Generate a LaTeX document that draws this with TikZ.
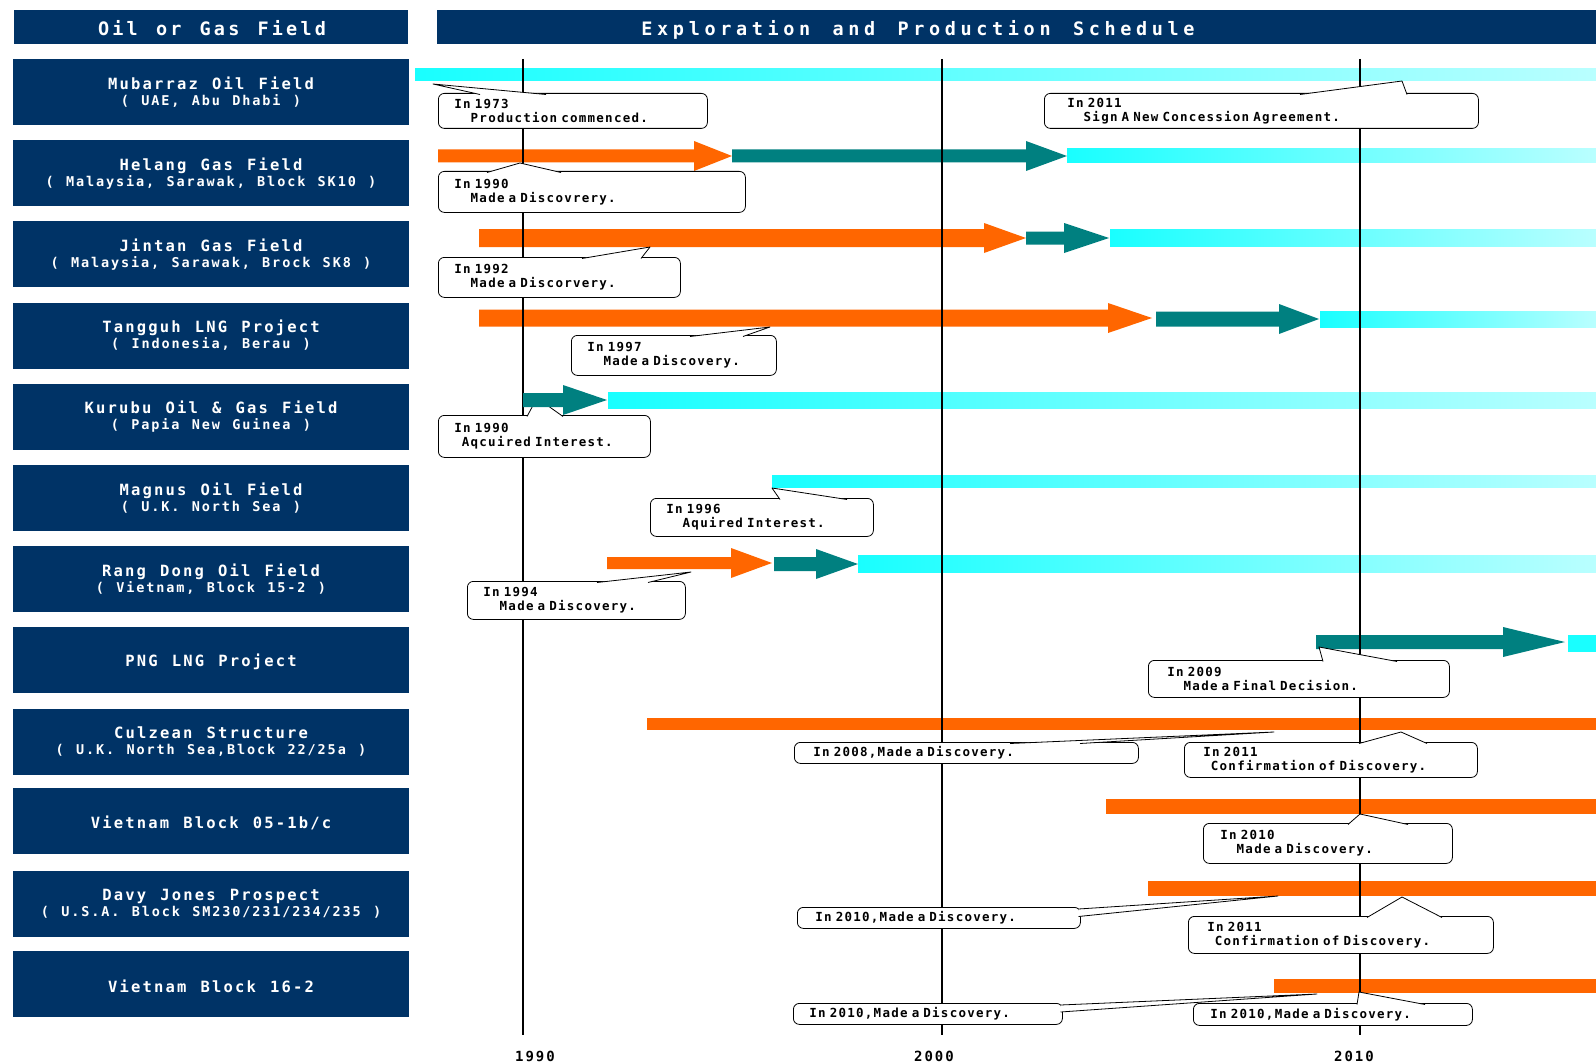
\documentclass[tikz,border=0pt]{standalone}
\usepackage{fontspec}
\newfontfamily\titlefont[LetterSpace=17,WordSpace=1.28]{DejaVu Sans Mono}
\newfontfamily\widetitlefont[LetterSpace=25,WordSpace=1.42]{DejaVu Sans Mono}
\newfontfamily\rowfont[LetterSpace=14,WordSpace=1.23]{DejaVu Sans Mono}
\newfontfamily\callfont[LetterSpace=10,WordSpace=1.35]{DejaVu Sans Mono}
\usepackage{tikz}

\definecolor{navy}{RGB}{0,51,102}
\definecolor{orangebar}{RGB}{255,102,0}
\definecolor{tealbar}{RGB}{0,128,128}
\definecolor{cyanbar}{RGB}{25,255,255}
\definecolor{cyanpale}{RGB}{185,255,255}

% second line of a field label
\newcommand{\fieldsub}[1]{{\fontsize{13.5}{16}\selectfont #1}}
% block arrow: colour, start x, tip x, centre y, half shaft, head length
\newcommand{\flowarrow}[6]{%
  \fill[#1] (#2,#4-#5) -- (#3-#6,#4-#5) -- (#3-#6,#4-15) -- (#3,#4)
    -- (#3-#6,#4+15) -- (#3-#6,#4+#5) -- (#2,#4+#5) -- cycle;}
% callout pointer: base point, tip, base point
\newcommand{\pointer}[3]{%
  \fill[white] (#1) -- (#2) -- (#3) -- cycle;
  \draw[line width=0.8pt, line join=round] (#1) -- (#2) -- (#3);}

\begin{document}
\begin{tikzpicture}[
  x=1pt, y=-1pt,
  hdbox/.style={
    rectangle, fill=navy, minimum height=34pt, inner sep=0pt
  },
  hdtext/.style={
    text=white, font=#1\bfseries\fontsize{18.5}{20}\selectfont
  },
  fieldbox/.style={
    rectangle, fill=navy, minimum width=396pt, minimum height=66pt,
    text=white, align=center, inner sep=0pt,
    font=\rowfont\bfseries\fontsize{15.5}{16}\selectfont,
    execute at begin node={\rule{0pt}{16pt}}
  },
  callout/.style={
    rectangle, draw=black, fill=white, line width=0.8pt, rounded corners=6pt,
    anchor=north west, align=left, inner xsep=16pt, inner ysep=0pt,
    font=\callfont\bfseries\fontsize{12.5}{14}\selectfont
  },
  gridline/.style={line width=1.6pt},
  yearlabel/.style={font=\rowfont\bfseries\fontsize{14}{16}\selectfont}
]
\useasboundingbox (0,0) rectangle (1596,1062);

% Headers
\node[hdbox, minimum width=394pt] (hdfield) at (211,27) {};
\node[hdtext=\titlefont] (hdfieldtxt) at (212,28.5) {Oil or Gas Field};
\node[hdbox, minimum width=1159pt] (hdsched) at (1016.5,27) {};
\node[hdtext=\widetitlefont] (hdschedtxt) at (918,29.5) {Exploration and Production Schedule};

% Fields
\node[fieldbox] (mubarraz) at (211,92)    {Mubarraz Oil Field\\\fieldsub{( UAE, Abu Dhabi )}};
\node[fieldbox] (helang)   at (211,173.2) {Helang Gas Field\\\fieldsub{( Malaysia, Sarawak, Block SK10 )}};
\node[fieldbox] (jintan)   at (211,254.4) {Jintan Gas Field\\\fieldsub{( Malaysia, Sarawak, Brock SK8 )}};
\node[fieldbox] (tangguh)  at (211,335.6) {Tangguh LNG Project\\\fieldsub{( Indonesia, Berau )}};
\node[fieldbox] (kurubu)   at (211,416.8) {Kurubu Oil \& Gas Field\\\fieldsub{( Papia New Guinea )}};
\node[fieldbox] (magnus)   at (211,498)   {Magnus Oil Field\\\fieldsub{( U.K. North Sea )}};
\node[fieldbox] (rangdong) at (211,579.2) {Rang Dong Oil Field\\\fieldsub{( Vietnam, Block 15-2 )}};
\node[fieldbox] (pnglng)   at (211,660.4) {PNG LNG Project};
\node[fieldbox] (culzean)  at (211,741.6) {Culzean Structure\\\fieldsub{( U.K. North Sea,Block 22/25a )}};
\node[fieldbox] (vnfive)   at (211,820.8) {Vietnam Block 05-1b/c};
\node[fieldbox] (davy)     at (211,904)   {Davy Jones Prospect\\\fieldsub{( U.S.A. Block SM230/231/234/235 )}};
\node[fieldbox] (vnsixteen) at (211,984.2) {Vietnam Block 16-2};

% Bars
\shade[left color=cyanbar, right color=cyanpale] (415,69) rectangle (1596,81);
\flowarrow{orangebar}{438}{732}{156}{6.5}{38}
\flowarrow{tealbar}{732}{1067}{156}{6.5}{41}
\shade[left color=cyanbar, right color=cyanpale] (1067,149) rectangle (1596,163);
\flowarrow{orangebar}{479}{1026}{238}{9}{42}
\flowarrow{tealbar}{1026}{1109}{238}{6.5}{45}
\shade[left color=cyanbar, right color=cyanpale] (1110,229) rectangle (1596,246);
\flowarrow{orangebar}{479}{1152}{318}{8.5}{44}
\flowarrow{tealbar}{1156}{1319}{319}{7.5}{40}
\shade[left color=cyanbar, right color=cyanpale] (1320,311) rectangle (1596,327);
\shade[left color=cyanbar, right color=cyanpale] (608,392) rectangle (1596,408);
\shade[left color=cyanbar, right color=cyanpale] (772,475) rectangle (1596,487);
\flowarrow{orangebar}{607}{772}{563}{6}{41}
\flowarrow{tealbar}{774}{858}{564}{7}{42}
\shade[left color=cyanbar, right color=cyanpale] (858,555) rectangle (1596,572);
\flowarrow{tealbar}{1316}{1565}{642}{7}{62}
\fill[cyanbar] (1568,635) rectangle (1596,652);
\fill[orangebar] (647,718) rectangle (1596,730);
\fill[orangebar] (1106,799) rectangle (1596,814);
\fill[orangebar] (1148,881) rectangle (1596,896);
\fill[orangebar] (1274,979) rectangle (1596,993);

% Years
\draw[gridline] (523,59) -- (523,1035);
\draw[gridline] (942,59) -- (942,1035);
\draw[gridline] (1360,59) -- (1360,1035);
\node[yearlabel] (y1990) at (535,1056) {1990};
\node[yearlabel] (y2000) at (934,1056) {2000};
\node[yearlabel] (y2010) at (1354,1056) {2010};

% Callouts
\node[callout, text width=237pt, minimum height=35pt] (c1973) at (438,93)
  {In 1973\\\phantom{xx}Production commenced.};
\pointer{480,94.5}{433,84}{546,94.5}
\node[callout, minimum height=35pt, inner xsep=23pt, text width=388pt] (c2011m) at (1044,93)
  {In 2011\\\phantom{xx}Sign A New Concession Agreement.};
\pointer{1300,94.5}{1402,81}{1407,94.5}
\node[callout, text width=275pt, minimum height=41pt] (c1990h) at (438,171)
  {In 1990\\\phantom{xx}Made a Discovrery.};
\pointer{487,172.5}{520,163}{561,172.5}
\node[callout, text width=210pt, minimum height=40pt] (c1992) at (438,257)
  {In 1992\\\phantom{xx}Made a Discorvery.};
\pointer{582,258.5}{650,247}{641,258.5}
\node[callout, text width=173pt, minimum height=40pt] (c1997) at (571,335)
  {In 1997\\\phantom{xx}Made a Discovery.};
\pointer{690,336.5}{770,327}{743,336.5}
\node[callout, text width=180pt, minimum height=42pt] (c1990k) at (438,415)
  {In 1990\\\phantom{x}Aqcuired Interest.};
\pointer{527,416.5}{537,398}{563,416.5}
\node[callout, text width=191pt, minimum height=38pt] (c1996) at (650,498)
  {In 1996\\\phantom{xx}Aquired Interest.};
\pointer{780,499.5}{772,488}{847,499.5}
\node[callout, text width=186pt, minimum height=38pt] (c1994) at (467,581)
  {In 1994\\\phantom{xx}Made a Discovery.};
\pointer{597,582.5}{691,572}{648,582.5}
\node[callout, text width=263pt, minimum height=37pt, inner xsep=19pt] (c2009) at (1148,660)
  {In 2009\\\phantom{xx}Made a Final Decision.};
\pointer{1323,661.5}{1319,647}{1397,661.5}
\node[callout, text width=306pt, minimum height=21pt, inner xsep=19pt] (c2008) at (794,742)
  {In 2008,Made a Discovery.};
\pointer{1010,743.5}{1274,732}{1080,743.5}
\node[callout, text width=255pt, minimum height=35pt, inner xsep=19pt] (c2011c) at (1184,742)
  {In 2011\\\phantom{x}Confirmation of Discovery.};
\pointer{1359,743.5}{1401,732}{1427,743.5}
\node[callout, text width=215pt, minimum height=40pt, inner xsep=17pt] (c2010v) at (1203,823)
  {In 2010\\\phantom{xx}Made a Discovery.};
\pointer{1348,824.5}{1360,814}{1408,824.5}
\node[callout, text width=247pt, minimum height=21pt, inner xsep=18pt] (c2010d) at (797,907)
  {In 2010,Made a Discovery.};
\pointer{1078.5,909}{1278,896}{1078.5,916.5}
\node[callout, text width=267pt, minimum height=37pt, inner xsep=19pt] (c2011d) at (1188,916)
  {In 2011\\\phantom{x}Confirmation of Discovery.};
\pointer{1367,917.5}{1402,897}{1442,917.5}
\node[callout, text width=237pt, minimum height=21pt] (c2010j) at (793,1003)
  {In 2010,Made a Discovery.};
\pointer{1060.5,1005}{1317,994}{1060.5,1012}
\node[callout, text width=245pt, minimum height=22pt, inner xsep=17pt] (c2010k) at (1193,1003)
  {In 2010,Made a Discovery.};
\pointer{1357,1004.5}{1359,992}{1425,1004.5}

% Kurubu arrow lies over its pointer
\flowarrow{tealbar}{523}{607}{400}{7}{44}

\end{tikzpicture}
\end{document}
